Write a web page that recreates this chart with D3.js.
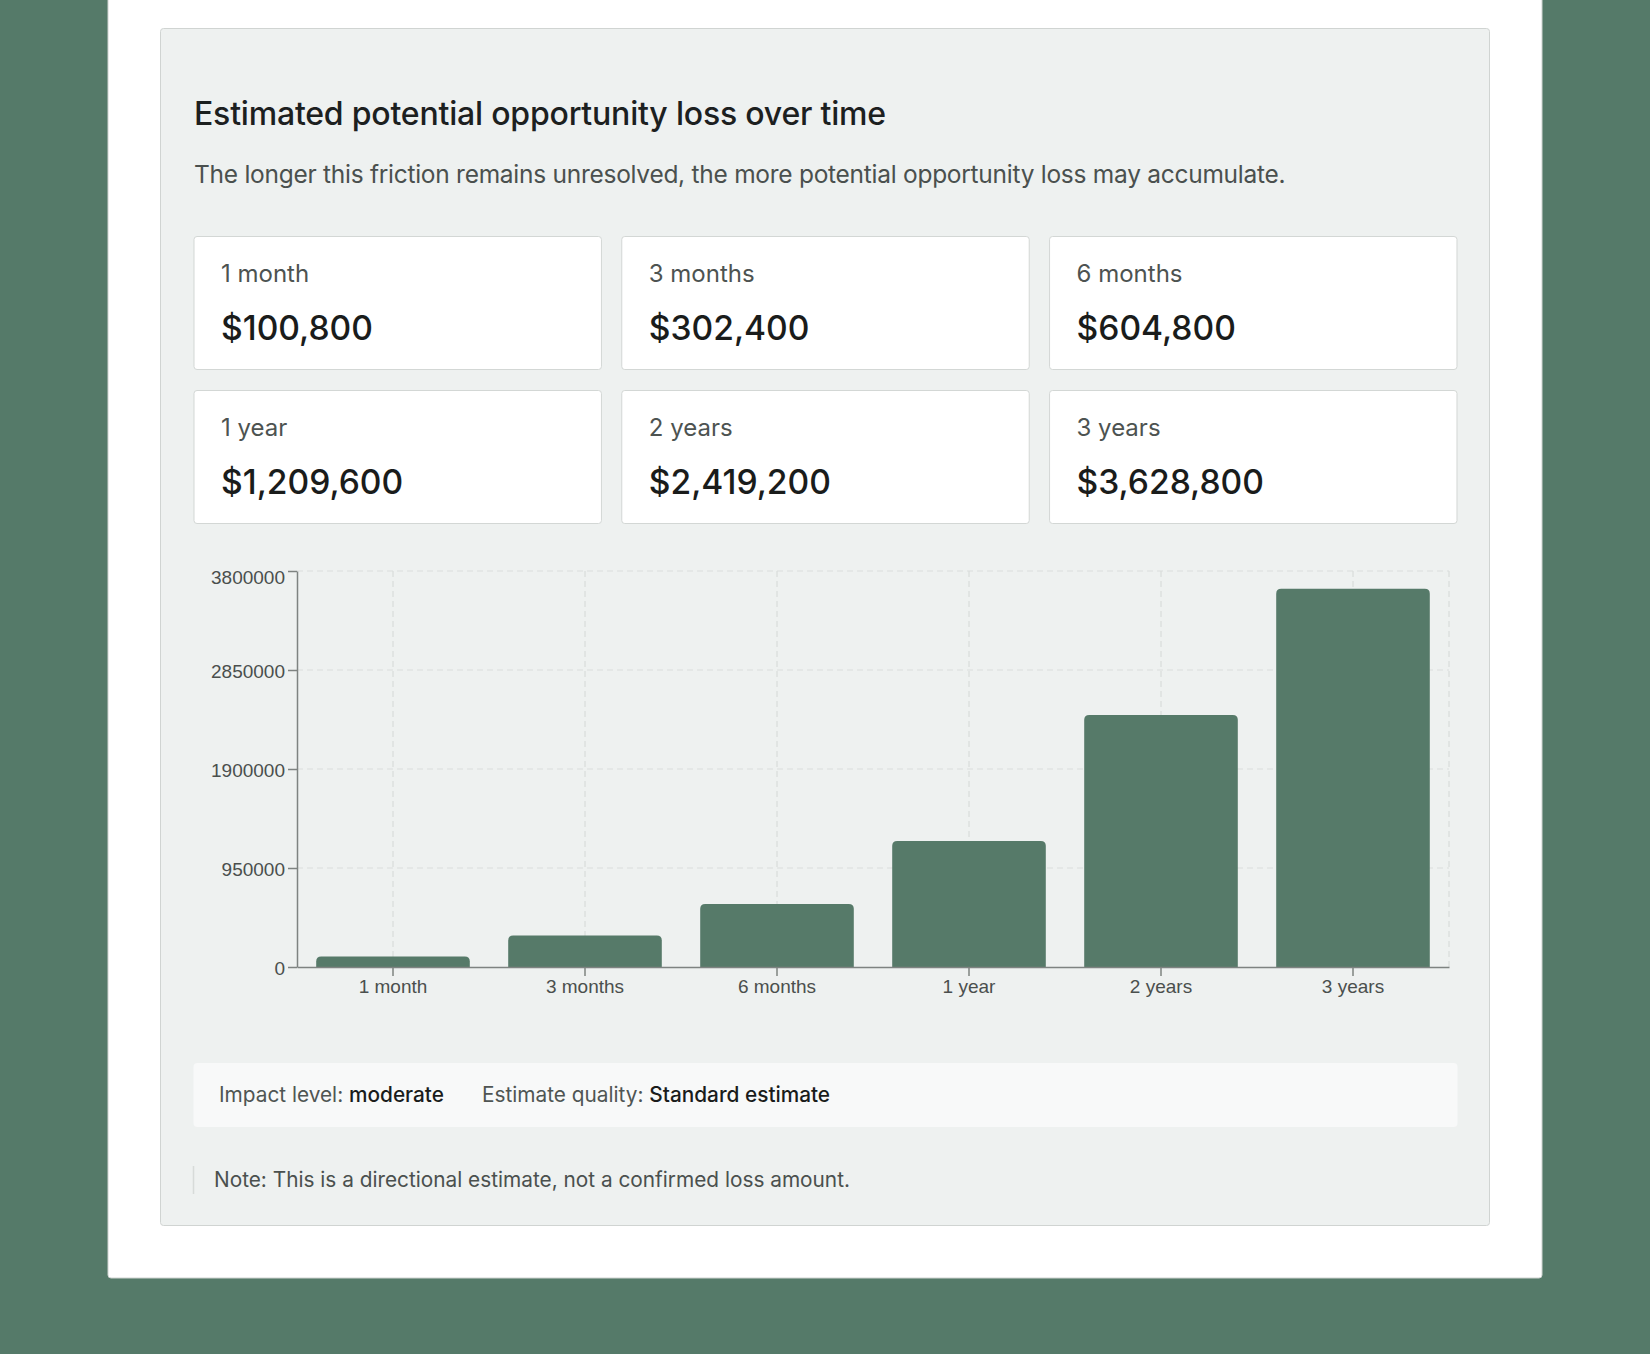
<!DOCTYPE html>
<html>
<head>
<meta charset="utf-8">
<script src="https://cdn.jsdelivr.net/npm/d3@7/dist/d3.min.js"></script>
<style>
  html, body { margin: 0; padding: 0; background: #557a69; }
  body { width: 1650px; height: 1354px; overflow: hidden; position: relative; }
  svg { position: absolute; left: 0; top: 0; }
  .ui { font-family: Inter, "Noto Sans", sans-serif; }
  .axis text { font-family: "Liberation Sans", Arial, sans-serif; font-size: 19px; fill: #4a4f4d; }
  .axis path, .axis line { stroke: #7e8381; stroke-width: 1.5; }
</style>
</head>
<body>
<svg id="root" width="1650" height="1354"></svg>
<script>
// ---- data ----
const categories = ["1 month", "3 months", "6 months", "1 year", "2 years", "3 years"];
const lossValues = [100800, 302400, 604800, 1209600, 2419200, 3628800];
const yTickValues = [0, 950000, 1900000, 2850000, 3800000];
const yMax = 3800000;
const titleText = "Estimated potential opportunity loss over time";
const subtitleText = "The longer this friction remains unresolved, the more potential opportunity loss may accumulate.";
const impactLevel = "moderate";
const estimateQuality = "Standard estimate";
const noteText = "Note: This is a directional estimate, not a confirmed loss amount.";

const svg = d3.select("#root");
const fmtMoney = d3.format("$,");

// white panel
svg.append("rect").attr("x", 108).attr("y", -10).attr("width", 1434).attr("height", 1288)
  .attr("rx", 3).attr("fill", "#ffffff").attr("stroke", "#cfd3d1").attr("stroke-width", 1);

// gray card
svg.append("rect").attr("x", 160.5).attr("y", 28.5).attr("width", 1329).attr("height", 1197)
  .attr("rx", 3).attr("fill", "#eef1f0").attr("stroke", "#d0d4d2").attr("stroke-width", 1);

// title & subtitle
svg.append("text").attr("class", "ui").attr("x", 194).attr("y", 125)
  .attr("font-size", 32).attr("font-weight", 500).attr("letter-spacing", -0.2)
  .attr("fill", "#1c201f").text(titleText);
svg.append("text").attr("class", "ui").attr("x", 194).attr("y", 182.5)
  .attr("font-size", 24.5).attr("letter-spacing", -0.27)
  .attr("fill", "#4a504e").text(subtitleText);

// metric cards
const cardX = d3.scaleBand().domain([0, 1, 2]).range([194, 1457]).paddingInner(20 / 421);
const cardY = [236.5, 390.5];
const cards = svg.append("g").selectAll("g").data(categories).join("g")
  .attr("transform", (d, i) => `translate(${cardX(i % 3)},${cardY[Math.floor(i / 3)]})`);
cards.append("rect").attr("width", cardX.bandwidth()).attr("height", 133)
  .attr("rx", 3).attr("fill", "#ffffff").attr("stroke", "#d3d7d5").attr("stroke-width", 1);
cards.append("text").attr("class", "ui").attr("x", 27).attr("y", 45)
  .attr("font-size", 24).attr("fill", "#4d5351").text(d => d);
cards.append("text").attr("class", "ui").attr("x", 27).attr("y", 103)
  .attr("font-size", 33.6).attr("font-weight", 500).attr("fill", "#1a1c1b")
  .text((d, i) => fmtMoney(lossValues[i]));

// chart
const plot = { left: 297, right: 1449, top: 571, bottom: 967 };
const x = d3.scaleBand().domain(categories).range([plot.left, plot.right])
  .paddingInner(0.2).paddingOuter(0.1);
const y = d3.scaleLinear().domain([0, yMax]).range([plot.bottom, plot.top]);

const grid = svg.append("g").attr("stroke", "#d9dddb").attr("stroke-width", 1.2)
  .attr("stroke-dasharray", "6,4").attr("fill", "none");
grid.selectAll("line.h").data(yTickValues.filter(v => v > 0)).join("line").attr("class", "h")
  .attr("x1", plot.left).attr("x2", plot.right).attr("y1", d => y(d)).attr("y2", d => y(d));
grid.selectAll("line.v").data(categories).join("line").attr("class", "v")
  .attr("x1", d => x(d) + x.bandwidth() / 2).attr("x2", d => x(d) + x.bandwidth() / 2)
  .attr("y1", plot.top).attr("y2", plot.bottom);
grid.append("line").attr("x1", plot.right).attr("x2", plot.right)
  .attr("y1", plot.top).attr("y2", plot.bottom);

// bars with rounded top corners
function barPath(x0, y0, w, h, r) {
  r = Math.min(r, h, w / 2);
  return `M${x0},${y0 + h}V${y0 + r}Q${x0},${y0} ${x0 + r},${y0}H${x0 + w - r}Q${x0 + w},${y0} ${x0 + w},${y0 + r}V${y0 + h}Z`;
}
svg.append("g").selectAll("path").data(categories).join("path")
  .attr("fill", "#567a69")
  .attr("d", (d, i) => barPath(x(d), y(lossValues[i]), x.bandwidth(), y(0) - y(lossValues[i]), 5));

// axes
svg.append("g").attr("class", "axis").attr("transform", `translate(${plot.left},0)`)
  .call(d3.axisLeft(y).tickValues(yTickValues).tickFormat(d3.format("d"))
    .tickSize(9).tickSizeOuter(0).tickPadding(3))
  .call(g => g.selectAll("text").attr("dy", d => d === yMax ? "0.65em" : "0.4em"));
svg.append("g").attr("class", "axis").attr("transform", `translate(0,${plot.bottom})`)
  .call(d3.axisBottom(x).tickSize(9).tickSizeOuter(0).tickPadding(4))
  .call(g => g.selectAll("text").attr("dy", "0.71em"));

// info box
svg.append("rect").attr("x", 193.5).attr("y", 1063).attr("width", 1264).attr("height", 64)
  .attr("rx", 4).attr("fill", "#f8f9f9");
const info1 = svg.append("text").attr("class", "ui").attr("x", 219).attr("y", 1102)
  .attr("font-size", 20.8).attr("fill", "#4f5553");
info1.append("tspan").text("Impact level: ");
info1.append("tspan").attr("fill", "#1a1c1b").attr("font-weight", 500).text(impactLevel);
const info2 = svg.append("text").attr("class", "ui").attr("x", 482).attr("y", 1102)
  .attr("font-size", 20.8).attr("fill", "#4f5553");
info2.append("tspan").text("Estimate quality: ");
info2.append("tspan").attr("fill", "#1a1c1b").attr("font-weight", 500).text(estimateQuality);

// note
svg.append("line").attr("x1", 193.5).attr("x2", 193.5).attr("y1", 1166).attr("y2", 1194)
  .attr("stroke", "#d7dbd9").attr("stroke-width", 1.5);
svg.append("text").attr("class", "ui").attr("x", 214).attr("y", 1187)
  .attr("font-size", 20.8).attr("fill", "#4a504e").text(noteText);
</script>
</body>
</html>
